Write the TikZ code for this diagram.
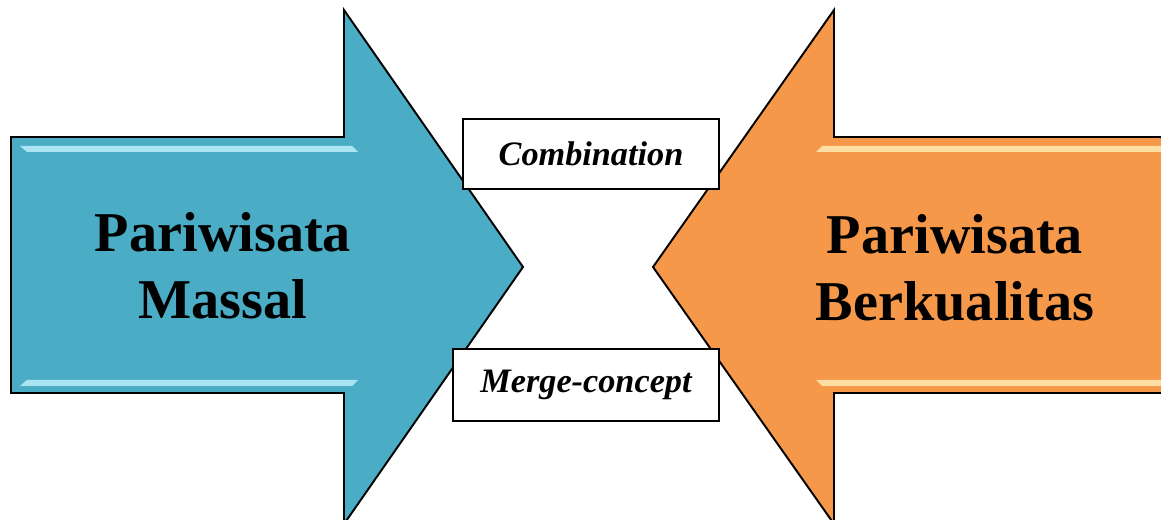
\documentclass[tikz,border=0pt]{standalone}
\usepackage{fontspec}
\setmainfont{Liberation Serif}
\usepackage{xcolor}
\definecolor{massBlue}{RGB}{75,172,198}
\definecolor{massGlow}{RGB}{190,240,250}
\definecolor{qualOrange}{RGB}{245,152,74}
\definecolor{qualGlow}{RGB}{255,236,180}
\tikzset{
    bigarrow/.style={draw=black, line width=1.1pt, line join=miter},
    glowline/.style={draw=none, opacity=0.85},
    conceptbox/.style={
        rectangle,
        draw=black,
        line width=0.6pt,
        fill=white,
        align=center,
        inner sep=0pt,
        font=\fontsize{19.5}{23}\selectfont\bfseries\itshape
    },
    arrowtext/.style={align=center, font=\fontsize{32}{38}\selectfont\bfseries}
}
\begin{document}
\begin{tikzpicture}[x=0.02cm, y=-0.02cm]
    \useasboundingbox (0,0) rectangle (1161,520);

    % left arrow
    \path[bigarrow, fill=massBlue] (11,137) -- (344,137) -- (344,10) -- (523,267)
        -- (344,524) -- (344,393) -- (11,393) -- cycle;
    \fill[glowline, massGlow] (20,146) -- (352,146) -- (358,152) -- (27,152) -- cycle;
    \fill[glowline, massGlow] (27,380) -- (358,380) -- (352,386) -- (20,386) -- cycle;

    % right arrow
    \path[bigarrow, fill=qualOrange] (1175,137) -- (834,137) -- (834,10) -- (653,267)
        -- (834,524) -- (834,393) -- (1175,393) -- cycle;
    \fill[glowline, qualGlow] (822,146) -- (1161,146) -- (1161,152) -- (816,152) -- cycle;
    \fill[glowline, qualGlow] (816,380) -- (1161,380) -- (1161,386) -- (822,386) -- cycle;

    \node[arrowtext] (mass) at (223,266) {Pariwisata\\Massal};
    \node[arrowtext] (quality) at (955,268) {Pariwisata\\Berkualitas};

    \node[conceptbox, minimum width=256*0.02cm, minimum height=70*0.02cm] (combine) at (591,154) {Combination};
    \node[conceptbox, minimum width=266*0.02cm, minimum height=72*0.02cm] (merge) at (586,385) {Merge-concept};
\end{tikzpicture}
\end{document}
